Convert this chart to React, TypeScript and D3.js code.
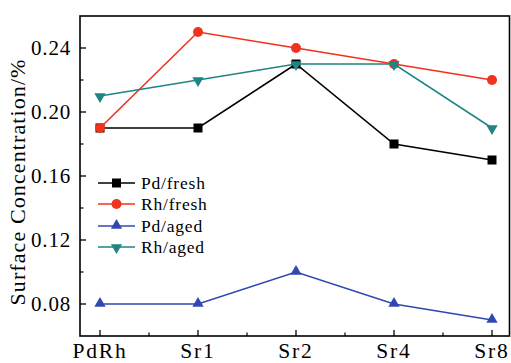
import React from "react";
import * as d3 from "d3";

const categories = ["PdRh", "Sr1", "Sr2", "Sr4", "Sr8"];
const pdFresh = [0.19, 0.19, 0.23, 0.18, 0.17];
const rhFresh = [0.19, 0.25, 0.24, 0.23, 0.22];
const pdAged = [0.08, 0.08, 0.1, 0.08, 0.07];
const rhAged = [0.21, 0.22, 0.23, 0.23, 0.19];
const yTicks = [0.08, 0.12, 0.16, 0.2, 0.24];
const yMinor = [0.1, 0.14, 0.18, 0.22];

const series = [
  { name: "Pd/fresh", values: pdFresh, color: "#000000", marker: "square" },
  { name: "Rh/fresh", values: rhFresh, color: "#f0321e", marker: "circle" },
  { name: "Pd/aged", values: pdAged, color: "#3048b0", marker: "up" },
  { name: "Rh/aged", values: rhAged, color: "#1f8585", marker: "down" },
];

const W = 511, H = 363;
const L = 80, R = 509.5, T = 16, B = 336;

function Marker({ type, x, y, color }: { type: string; x: number; y: number; color: string }) {
  if (type === "square") return <rect x={x - 4.5} y={y - 4.5} width={9} height={9} fill={color} />;
  if (type === "circle") return <circle cx={x} cy={y} r={5} fill={color} />;
  const sym = d3.symbol().type(d3.symbolTriangle).size(55)();
  return <path d={sym || ""} transform={`translate(${x},${y + (type === "down" ? 0.5 : -0.5)}) rotate(${type === "down" ? 180 : 0})`} fill={color} />;
}

export default function App() {
  const x = d3.scaleLinear().domain([-0.2, 4.2]).range([80.4, 511.6]);
  const y = d3.scaleLinear().domain([0.06, 0.26]).range([B, T]);
  const line = d3.line<number>().x((_, i) => x(i)).y((d) => y(d));
  const font = "'Liberation Serif', 'Times New Roman', serif";
  const legendY = [183, 204, 226, 247];
  return (
    <svg width={W} height={H} style={{ position: "absolute", left: 0, top: 0, background: "#fff" }}>
      <rect x={0} y={0} width={W} height={H} fill="#fff" />
      {series.map((s) => (
        <g key={s.name}>
          <path d={line(s.values) || ""} fill="none" stroke={s.color} strokeWidth={1.6} />
          {s.values.map((v, i) => (
            <Marker key={i} type={s.marker} x={x(i)} y={y(v)} color={s.color} />
          ))}
        </g>
      ))}
      <rect x={L} y={T} width={R - L} height={B - T} fill="none" stroke="#000" strokeWidth={1.6} />
      {yTicks.map((t) => (
        <g key={t}>
          <line x1={L} x2={L + 6} y1={y(t)} y2={y(t)} stroke="#000" strokeWidth={1.3} />
          <text x={71} y={y(t) + 7} textAnchor="end" fontFamily={font} fontSize={21} letterSpacing={0.8}>{t.toFixed(2)}</text>
        </g>
      ))}
      {yMinor.map((t) => (
        <line key={t} x1={L} x2={L + 3.5} y1={y(t)} y2={y(t)} stroke="#000" strokeWidth={1.2} />
      ))}
      {categories.map((c, i) => (
        <g key={c}>
          <line x1={x(i)} x2={x(i)} y1={B} y2={B - 6} stroke="#000" strokeWidth={1.3} />
          <text x={x(i)} y={358} textAnchor="middle" fontFamily={font} fontSize={21.5} letterSpacing={1.8}>{c}</text>
        </g>
      ))}
      {categories.slice(0, -1).map((c, i) => (
        <line key={c} x1={x(i + 0.5)} x2={x(i + 0.5)} y1={B} y2={B - 3.5} stroke="#000" strokeWidth={1.2} />
      ))}
      <text transform={`translate(25,182) rotate(-90)`} textAnchor="middle" fontFamily={font} fontSize={22} letterSpacing={1.1}>Surface Concentration/%</text>
      {series.map((s, i) => (
        <g key={s.name}>
          <line x1={98} x2={135} y1={legendY[i]} y2={legendY[i]} stroke={s.color} strokeWidth={1.6} />
          <Marker type={s.marker} x={116.5} y={legendY[i]} color={s.color} />
          <text x={141} y={legendY[i] + 6} fontFamily={font} fontSize={17.5} letterSpacing={0.8}>{s.name}</text>
        </g>
      ))}
    </svg>
  );
}
